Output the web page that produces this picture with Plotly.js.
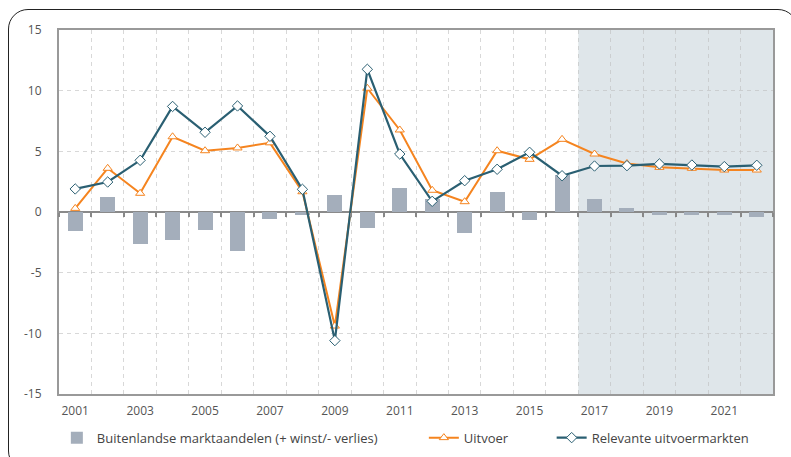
<!DOCTYPE html>
<html>
<head>
<meta charset="utf-8">
<script src="https://cdn.plot.ly/plotly-3.0.1.min.js"></script>
<style>
  html, body { margin: 0; padding: 0; background: #fff; overflow: hidden; }
  #wrap { position: relative; width: 791px; height: 457px; overflow: hidden; }
  #chart { position: absolute; left: 0; top: 0; width: 791px; height: 457px; }
  #frame { position: absolute; left: 8px; top: 9px; width: 790px; height: 462px;
           border: 1.5px solid #222; border-radius: 20px; box-sizing: border-box; pointer-events: none; }
</style>
</head>
<body>
<div id="wrap">
  <div id="chart"></div>
  <div id="frame"></div>
</div>
<script>
const years = [2001, 2002, 2003, 2004, 2005, 2006, 2007, 2008, 2009, 2010, 2011,
               2012, 2013, 2014, 2015, 2016, 2017, 2018, 2019, 2020, 2021, 2022];
const marktaandelen = [-1.57, 1.24, -2.64, -2.34, -1.48, -3.2, -0.58, -0.22, 1.4, -1.32, 1.98,
                       1.05, -1.76, 1.65, -0.69, 3.05, 1.07, 0.3, -0.28, -0.28, -0.28, -0.38];
const uitvoer = [0.3, 3.6, 1.54, 6.2, 5.05, 5.28, 5.7, 1.67, -9.4, 10.2, 6.76,
                 1.79, 0.85, 5.05, 4.34, 5.99, 4.78, 4.0, 3.68, 3.6, 3.46, 3.46];
const markten = [1.9, 2.47, 4.26, 8.7, 6.57, 8.74, 6.24, 1.87, -10.6, 11.76, 4.78,
                 0.88, 2.58, 3.52, 4.92, 2.99, 3.79, 3.82, 3.96, 3.87, 3.74, 3.85];
const seriesNames = ['Buitenlandse marktaandelen (+ winst/- verlies)', 'Uitvoer', 'Relevante uitvoermarkten'];
const xTickYears = [2001, 2003, 2005, 2007, 2009, 2011, 2013, 2015, 2017, 2019, 2021];
const xTickText = ['2001', '2003', '2005', '2007', '2009', '2011', '2013', '2015', '2017', '2019', '2021'];
const yTickVals = [-15, -10, -5, 0, 5, 10, 15];
const yTickText = ['-15', '-10', '-5', '0', '5', '10', '15'];
const firstForecastYear = 2017;

const FONT = '"Open Sans", "DejaVu Sans", sans-serif';
const orange = '#f5841f';
const teal = '#2a5f72';
const barColor = '#a4aebb';
const gridColor = 'rgba(190,190,190,0.6)';

const xFirst = years[0] - 0.5;
const xLast = years[years.length - 1] + 0.5;

const traces = [
  {
    type: 'bar', x: years, y: marktaandelen, name: seriesNames[0],
    marker: { color: barColor, line: { width: 0 } }, width: 0.46,
    legend: 'legend'
  },
  {
    type: 'scatter', mode: 'lines+markers', x: years, y: uitvoer, name: seriesNames[1],
    xaxis: 'x2',
    line: { color: orange, width: 2 },
    marker: { symbol: 'triangle-up', size: 8, color: '#ffffff', line: { color: orange, width: 1 } },
    legend: 'legend2'
  },
  {
    type: 'scatter', mode: 'lines+markers', x: years, y: markten, name: seriesNames[2],
    xaxis: 'x2',
    line: { color: teal, width: 2.2 },
    marker: { symbol: 'diamond', size: 8, color: '#ffffff', line: { color: teal, width: 1 } },
    legend: 'legend3'
  }
];

const legendFont = { family: FONT, size: 13, color: '#444' };
const tickFont = { family: FONT, size: 12, color: '#555' };
const layout = {
  width: 791, height: 457,
  margin: { l: 59, r: 18, t: 30, b: 63, autoexpand: false },
  paper_bgcolor: '#ffffff', plot_bgcolor: '#ffffff',
  font: { family: FONT, size: 12, color: '#555' },
  bargap: 0,
  xaxis: {
    type: 'linear', range: [xFirst, xLast],
    tickmode: 'array', tickvals: xTickYears, ticktext: xTickText,
    showgrid: false, zeroline: false,
    minor: { tickmode: 'linear', tick0: xFirst, dtick: 1, showgrid: true,
             gridcolor: gridColor, griddash: '4px,4px', gridwidth: 1, ticks: '' },
    showline: true, linecolor: '#999', linewidth: 2, mirror: true,
    ticks: '', ticklabelstandoff: 5, tickfont: tickFont
  },
  xaxis2: {
    type: 'linear', range: [xFirst, xLast], overlaying: 'x', anchor: 'free', position: 0.5,
    tickmode: 'linear', tick0: xFirst, dtick: 1,
    showgrid: false,
    ticks: 'outside', ticklen: 4, tickcolor: '#888', tickwidth: 2,
    showticklabels: false, showline: false, zeroline: false
  },
  yaxis: {
    range: [-15, 15], tickmode: 'array', tickvals: yTickVals, ticktext: yTickText,
    showgrid: true, gridcolor: gridColor, griddash: '4px,4px', gridwidth: 1,
    zeroline: true, zerolinecolor: '#8a8a8a', zerolinewidth: 2,
    showline: true, linecolor: '#999', linewidth: 2, mirror: true,
    ticks: '', ticklabelstandoff: 13, tickfont: tickFont
  },
  shapes: [{
    type: 'rect', xref: 'x', yref: 'paper',
    x0: firstForecastYear - 0.5, x1: xLast, y0: 0, y1: 1,
    fillcolor: '#dfe6ea', line: { width: 0 }, layer: 'below'
  }],
  showlegend: true,
  legend: { orientation: 'h', x: -0.003, xanchor: 'left', y: -0.12, yanchor: 'middle',
            font: legendFont, bgcolor: 'rgba(0,0,0,0)' },
  legend2: { orientation: 'h', x: 0.511, xanchor: 'left', y: -0.12, yanchor: 'middle',
             font: legendFont, bgcolor: 'rgba(0,0,0,0)' },
  legend3: { orientation: 'h', x: 0.690, xanchor: 'left', y: -0.12, yanchor: 'middle',
             font: legendFont, bgcolor: 'rgba(0,0,0,0)' }
};

Plotly.newPlot('chart', traces, layout, { displayModeBar: false, staticPlot: true });
</script>
</body>
</html>
